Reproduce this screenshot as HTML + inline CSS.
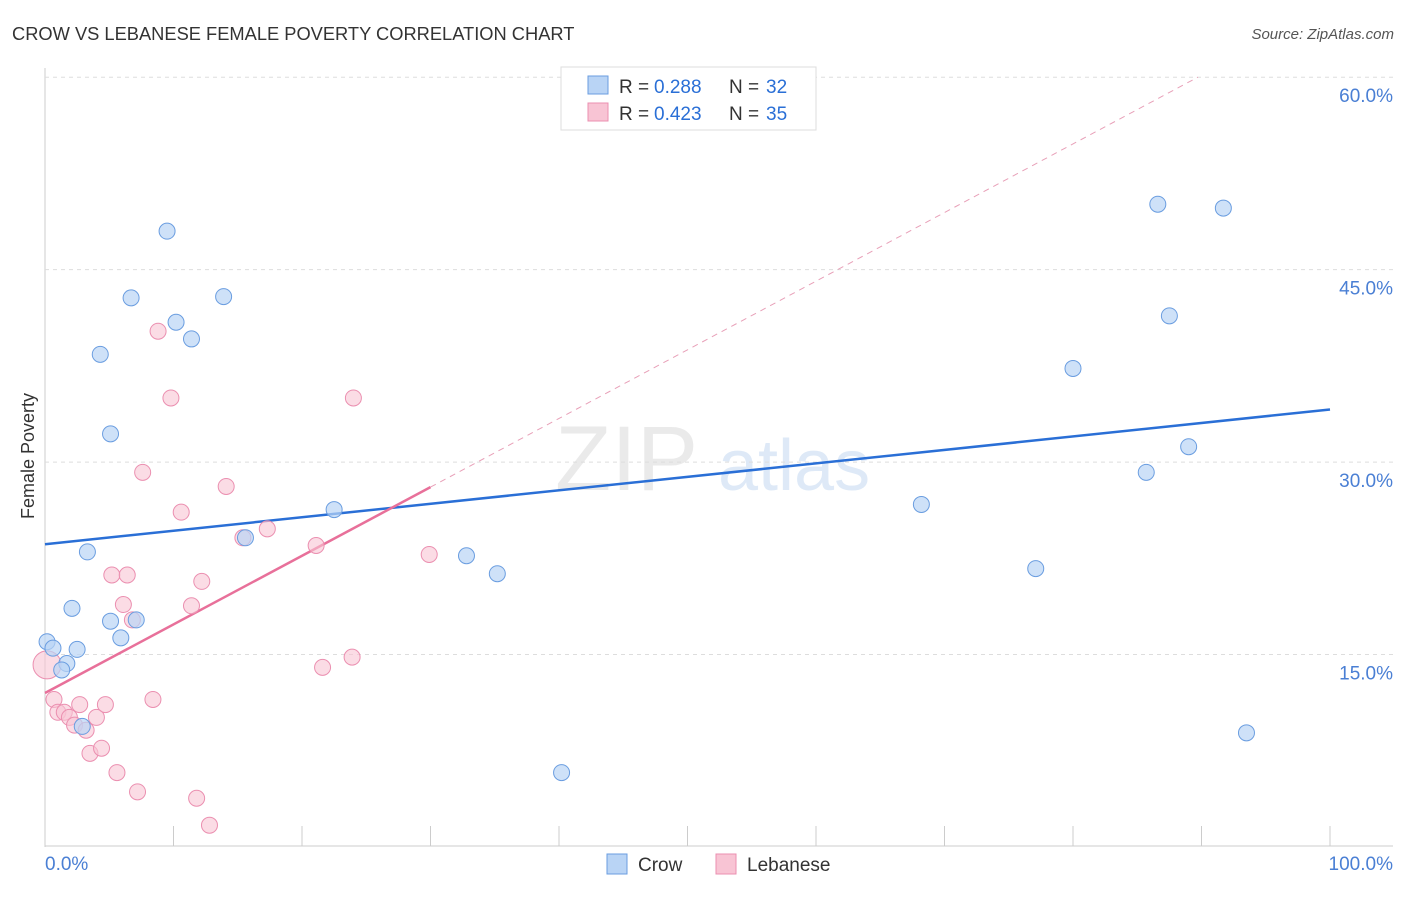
<!DOCTYPE html>
<html><head><meta charset="utf-8"><style>
body{margin:0;background:#fff;font-family:"Liberation Sans",sans-serif;}
svg text{font-family:"Liberation Sans",sans-serif;}
</style></head><body>
<svg id="c" width="1406" height="892">
<text x="12" y="40" font-size="18.3" fill="#333">CROW VS LEBANESE FEMALE POVERTY CORRELATION CHART</text>
<text x="1394" y="39" font-size="15" fill="#555" font-style="italic" text-anchor="end">Source: ZipAtlas.com</text>
<text x="34" y="456" font-size="18" fill="#333" text-anchor="middle" transform="rotate(-90 34 456)">Female Poverty</text>
<g><text x="555" y="490" font-size="92" fill="#ddd" font-family="Liberation Serif,serif" opacity="0.6">ZIP</text><text x="718" y="490" font-size="72" fill="#c9dcf2" opacity="0.6">atlas</text></g>
<g id="grid"></g><g id="lines"></g><g id="pts"></g>
<g>
<rect x="561" y="67" width="255" height="63" fill="#fff" stroke="#ddd"/>
<rect x="588" y="76" width="20" height="18" fill="#b9d4f5" stroke="#6a9de0"/>
<rect x="588" y="103" width="20" height="18" fill="#f8c4d4" stroke="#eb8fb0"/>
<text y="93" font-size="19" fill="#333"><tspan x="619">R =</tspan><tspan x="654" fill="#2a6fd6">0.288</tspan><tspan x="729">N =</tspan><tspan x="766" fill="#2a6fd6">32</tspan></text>
<text y="120" font-size="19" fill="#333"><tspan x="619">R =</tspan><tspan x="654" fill="#2a6fd6">0.423</tspan><tspan x="729">N =</tspan><tspan x="766" fill="#2a6fd6">35</tspan></text>
</g>
<g>
<rect x="607" y="854" width="20" height="20" fill="#b9d4f5" stroke="#6a9de0"/>
<text x="638" y="871" font-size="19" fill="#333">Crow</text>
<rect x="716" y="854" width="20" height="20" fill="#f8c4d4" stroke="#eb8fb0"/>
<text x="747" y="871" font-size="19" fill="#333">Lebanese</text>
</g>
</svg>
<script>
const crowX=[0.16,0.62,1.7,1.3,2.5,2.1,3.3,2.9,4.3,5.1,5.1,5.9,6.7,7.1,9.5,10.2,11.4,13.9,15.6,22.5,32.8,35.2,40.2,68.2,77.1,80.0,85.7,86.6,87.5,89.0,91.7,93.5];
const crowY=[16.0,15.5,14.3,13.8,15.4,18.6,23.0,9.4,38.4,32.2,17.6,16.3,42.8,17.7,48.0,40.9,39.6,42.9,24.1,26.3,22.7,21.3,5.8,26.7,21.7,37.3,29.2,50.1,41.4,31.2,49.8,8.9];
const lebX=[0.16,0.7,1.0,1.5,1.9,2.3,2.7,3.2,3.5,4.0,4.4,4.7,5.2,5.6,6.1,6.4,6.8,7.2,7.6,8.4,8.8,9.8,10.6,11.4,11.8,12.2,12.8,14.1,15.4,17.3,21.1,21.6,23.9,24.0,29.9];
const lebY=[14.2,11.5,10.5,10.5,10.1,9.5,11.1,9.1,7.3,10.1,7.7,11.1,21.2,5.8,18.9,21.2,17.7,4.3,29.2,11.5,40.2,35.0,26.1,18.8,3.8,20.7,1.7,28.1,24.1,24.8,23.5,14.0,14.8,35.0,22.8];
const yTicks=[15,30,45,60];
const yTickLabels=["15.0%","30.0%","45.0%","60.0%"];
const xTicks=[0,10,20,30,40,50,60,70,80,90,100];
const crowTrend=[23.6,34.1];
const lebTrend=[12.0,0.535];
const X=v=>45+v*12.85, Y=v=>847-v*12.83;
const NS="http://www.w3.org/2000/svg";
function mk(t,a,p){const e=document.createElementNS(NS,t);for(const k in a)e.setAttribute(k,a[k]);p.appendChild(e);return e;}
const g=document.getElementById('grid'),L=document.getElementById('lines'),P=document.getElementById('pts');
let ax=mk('line',{x1:45,y1:68,x2:45,y2:847,stroke:'#ccc'},g);


let bx=mk('line',{x1:45,y1:846,x2:1393,y2:846,stroke:'#ccc'},g);


yTicks.forEach((t,i)=>{
 const l=mk('line',{x1:45,x2:1393,y1:Y(t),y2:Y(t),stroke:'#ddd','stroke-dasharray':'4,4'},g);
 
 
 const tx=mk('text',{x:1393,y:Y(t)+25,'font-size':19,fill:'#4a7fd4','text-anchor':'end'},g);tx.textContent=yTickLabels[i];
 
 
});
xTicks.forEach(t=>{const l=mk('line',{x1:X(t),x2:X(t),y1:826,y2:846,stroke:'#ccc'},g);
 
 });
let t0=mk('text',{x:45,y:870,'font-size':19,fill:'#4a7fd4'},g);t0.textContent='0.0%';


let t1=mk('text',{x:1393,y:870,'font-size':19,fill:'#4a7fd4','text-anchor':'end'},g);t1.textContent='100.0%';


let bl=mk('line',{x1:X(0),y1:Y(crowTrend[0]),x2:X(100),y2:Y(crowTrend[1]),stroke:'#2a6fd6','stroke-width':2.5},L);


const xe=(60-lebTrend[0])/lebTrend[1];
let pd=mk('line',{x1:X(30),y1:Y(lebTrend[0]+30*lebTrend[1]),x2:X(xe),y2:Y(60),stroke:'#e8a0b8','stroke-width':1,'stroke-dasharray':'6,5'},L);


let pl=mk('line',{x1:X(0),y1:Y(lebTrend[0]),x2:X(30),y2:Y(lebTrend[0]+30*lebTrend[1]),stroke:'#e8709a','stroke-width':2.5},L);


lebX.forEach((x,i)=>{const c=mk('circle',{cx:X(x),cy:Y(lebY[i]),r:i==0?14:8,fill:'#f8c4d4','fill-opacity':0.6,stroke:'#eb8fb0','stroke-width':1},P);
 
 });
crowX.forEach((x,i)=>{const c=mk('circle',{cx:X(x),cy:Y(crowY[i]),r:8,fill:'#b9d4f5','fill-opacity':0.7,stroke:'#6a9de0','stroke-width':1},P);
 
 });
</script>
</body></html>
